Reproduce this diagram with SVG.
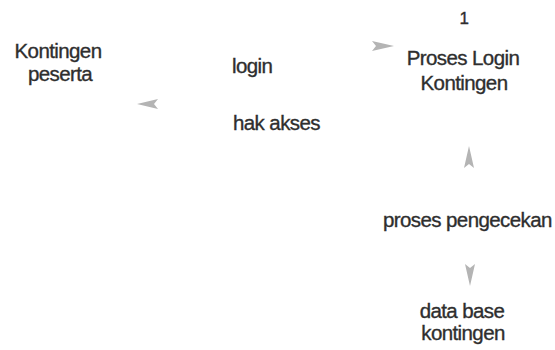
<svg xmlns="http://www.w3.org/2000/svg" width="555" height="350" viewBox="0 0 555 350">
  <style>
    text { font-family: "Liberation Sans", Arial, sans-serif; font-size: 20.5px; letter-spacing: -0.6px; fill: #2e2e2e; stroke: #2e2e2e; stroke-width: 0.35px; }
    .lbl { text-anchor: middle; }
    .head { fill: #b4b4b4; }
  </style>
  <rect width="555" height="350" fill="#ffffff"/>

  <!-- external entity -->
  <g id="kontingen-peserta">
    <text class="lbl" x="58" y="58">Kontingen</text>
    <text class="lbl" x="60" y="81">peserta</text>
  </g>

  <!-- process 1 -->
  <g id="proses-login">
    <text class="lbl" x="464" y="24" style="font-size:17px">1</text>
    <text class="lbl" x="463" y="65">Proses Login</text>
    <text class="lbl" x="464" y="90">Kontingen</text>
  </g>

  <!-- data store -->
  <g id="data-base-kontingen">
    <text class="lbl" x="462" y="318">data base</text>
    <text class="lbl" x="463" y="340">kontingen</text>
  </g>

  <!-- flows: arrowheads and their labels -->
  <g id="connectors">
    <polygon class="head" points="137,104 158,99 154,104 158,109"/>
    <polygon class="head" points="394,46 372,41 376,46 372,51"/>
    <polygon class="head" points="469,146 474,168 469,164 464,168"/>
    <polygon class="head" points="470,286 465,264 470,268 475,264"/>
    <text x="232" y="73">login</text>
    <text x="233" y="130">hak akses</text>
    <text x="383" y="227">proses pengecekan</text>
  </g>
</svg>
